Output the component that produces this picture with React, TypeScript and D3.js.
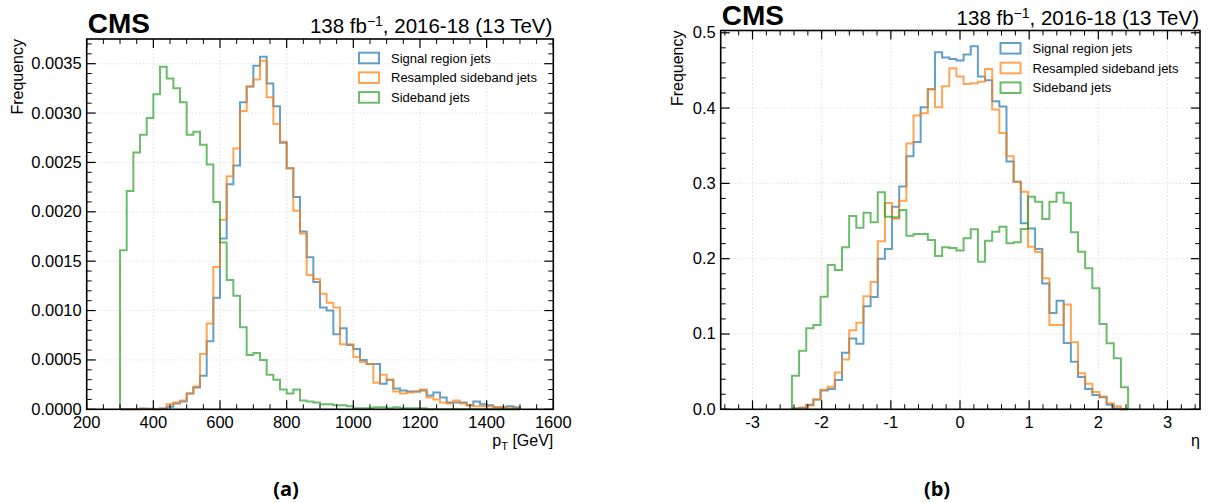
import React from 'react';
import * as d3 from 'd3';

// ---------- data: pT panel (20 GeV bins from 300 to 1500 GeV) ----------
const PT_LO = 300;
const PT_BIN = 20;
const ptSignal = [0, 0, 0, 0.000007, 0.000005, 0, 0.000007, 0.000025, 0.00006, 0.00008,
  0.00016, 0.00022, 0.00034, 0.00069, 0.00113, 0.00173, 0.00228, 0.00247, 0.00311, 0.00327,
  0.00348, 0.00357, 0.0033, 0.00307, 0.0027, 0.00244, 0.00215, 0.0018, 0.00154, 0.00129,
  0.00103, 0.001, 0.00076, 0.00082, 0.00065, 0.00061, 0.0005, 0.00046, 0.00046, 0.00026,
  0.0003, 0.00021, 0.00019, 0.00018, 0.00018, 0.00019, 0.00014, 0.00017, 0.00012, 0.00007,
  0.00007, 0.00007, 0.00004, 0.00008, 0.00005, 0.00004, 0.00002, 0.00002, 0.00003, 0.00002];
const ptResampled = [0, 0, 0, 0, 0, 0, 0.000005, 0.00005, 0.00007, 0.00009,
  0.00016, 0.00023, 0.00056, 0.00087, 0.00144, 0.00192, 0.00236, 0.00264, 0.00302, 0.00327,
  0.00334, 0.00353, 0.00316, 0.00289, 0.00271, 0.00244, 0.00201, 0.00178, 0.00136, 0.00132,
  0.00117, 0.00108, 0.00103, 0.00066, 0.00066, 0.00053, 0.00048, 0.00046, 0.00027, 0.00035,
  0.0003, 0.00018, 0.00016, 0.00017, 0.00018, 0.0002, 0.00012, 0.0001, 0.00007, 0.00006,
  0.00009, 0.00006, 0.00004, 0.00003, 0.00003, 0.00003, 0.00002, 0.00002, 0.00001, 0.00001];
const ptSideband = [0.00161, 0.00221, 0.0026, 0.00278, 0.00295, 0.00319, 0.00347, 0.00335, 0.00325, 0.00311,
  0.00278, 0.00281, 0.00268, 0.00248, 0.0021, 0.00169, 0.00131, 0.00115, 0.00083, 0.00055,
  0.00057, 0.0005, 0.00035, 0.0003, 0.0002, 0.00016, 0.0002, 0.00009, 0.00008, 0.00007,
  0.00005, 0.00005, 0.00004, 0.00004, 0.00003, 0.00001, 0.00001, 0.00001, 0.00002, 0.00002,
  0.00001, 0.00002, 0.00001, 0.00001, 0.00001, 0.00001, 0, 0, 0, 0,
  0, 0, 0, 0, 0, 0, 0, 0, 0, 0];
const ptXTicks = [200, 400, 600, 800, 1000, 1200, 1400, 1600];
const ptYTicks = [0, 0.0005, 0.001, 0.0015, 0.002, 0.0025, 0.003, 0.0035];
const ptYTickLabels = ['0.0000', '0.0005', '0.0010', '0.0015', '0.0020', '0.0025', '0.0030', '0.0035'];

// ---------- data: eta panel (47 bins from -2.43 to 2.43) ----------
const ETA_LO = -2.43;
const ETA_HI = 2.43;
const etaSignal = [0.001, 0.002, 0.006, 0.013, 0.025, 0.027, 0.039, 0.075, 0.094, 0.087,
  0.137, 0.149, 0.2, 0.213, 0.269, 0.296, 0.336, 0.355, 0.401, 0.425,
  0.474, 0.467, 0.465, 0.463, 0.471, 0.482, 0.442, 0.437, 0.409, 0.402,
  0.329, 0.302, 0.247, 0.24, 0.213, 0.167, 0.128, 0.144, 0.088, 0.063,
  0.043, 0.027, 0.019, 0.016, 0.006, 0.001, 0];
const etaResampled = [0.001, 0.002, 0.005, 0.013, 0.026, 0.03, 0.049, 0.066, 0.105, 0.115,
  0.15, 0.169, 0.223, 0.274, 0.253, 0.277, 0.353, 0.39, 0.393, 0.425,
  0.401, 0.429, 0.453, 0.442, 0.432, 0.433, 0.435, 0.452, 0.398, 0.367,
  0.336, 0.302, 0.289, 0.216, 0.209, 0.174, 0.112, 0.112, 0.139, 0.089,
  0.048, 0.034, 0.023, 0.017, 0.008, 0.004, 0];
const etaSideband = [0.0446, 0.0779, 0.1075, 0.112, 0.1496, 0.1916, 0.185, 0.2151, 0.2567, 0.2412,
  0.2611, 0.2483, 0.2882, 0.2558, 0.255, 0.2647, 0.2306, 0.2328, 0.2328, 0.2248,
  0.2036, 0.2151, 0.2142, 0.211, 0.2271, 0.239, 0.196, 0.2239, 0.2359, 0.2425,
  0.2204, 0.2218, 0.2394, 0.2824, 0.2757, 0.2527, 0.2757, 0.2877, 0.2744, 0.235,
  0.2093, 0.1872, 0.1607, 0.1133, 0.0876, 0.0677, 0.0292];
const etaXTicks = [-3, -2, -1, 0, 1, 2, 3];
const etaXTickLabels = ['-3', '-2', '-1', '0', '1', '2', '3'];
const etaYTicks = [0, 0.1, 0.2, 0.3, 0.4, 0.5];
const etaYTickLabels = ['0.0', '0.1', '0.2', '0.3', '0.4', '0.5'];

const seriesNames = ['Signal region jets', 'Resampled sideband jets', 'Sideband jets'];
const seriesColors = ['#1f77b4', '#ff7f0e', '#2ca02c'];

const FONT = "'Liberation Sans', Arial, Helvetica, sans-serif";

type PanelProps = {
  left: number; right: number; top: number; bottom: number;
  xDomain: [number, number]; yDomain: [number, number];
  series: { lo: number; width: number; values: number[] }[];
  xTicks: number[]; xTickLabels: string[];
  yTicks: number[]; yTickLabels: string[];
  xMinorStep: number; yMinorStep: number;
  legendX: number; legendY: number;
  xLabel: React.ReactNode;
  headerY: number;
  yLabelX: number;
};

function Panel(p: PanelProps) {
  const x = d3.scaleLinear().domain(p.xDomain).range([p.left, p.right]);
  const y = d3.scaleLinear().domain(p.yDomain).range([p.bottom, p.top]);
  const line = d3.line<[number, number]>().x(d => x(d[0])).y(d => y(d[1]));

  const paths = p.series.map(s => {
    const pts: [number, number][] = [[s.lo, 0]];
    s.values.forEach((v, i) => {
      pts.push([s.lo + i * s.width, v]);
      pts.push([s.lo + (i + 1) * s.width, v]);
    });
    pts.push([s.lo + s.values.length * s.width, 0]);
    return line(pts) as string;
  });

  const eps = 1e-9;
  const xMinor: number[] = [];
  for (let v = Math.ceil(p.xDomain[0] / p.xMinorStep) * p.xMinorStep; v <= p.xDomain[1] + eps; v += p.xMinorStep) {
    if (!p.xTicks.some(t => Math.abs(t - v) < p.xMinorStep / 10)) xMinor.push(v);
  }
  const yMinor: number[] = [];
  for (let v = 0; v <= p.yDomain[1] + eps; v += p.yMinorStep) {
    if (!p.yTicks.some(t => Math.abs(t - v) < p.yMinorStep / 10)) yMinor.push(v);
  }
  const MAJ = 9, MIN = 5;

  return (
    <g>
      {/* grid */}
      {p.xTicks.map((t, i) => (x(t) > p.left + 1 && x(t) < p.right - 1) ? (
        <line key={'gx' + i} x1={x(t)} x2={x(t)} y1={p.top} y2={p.bottom} stroke="#d9d9d9" strokeWidth={0.8} strokeDasharray="1.5,2" />
      ) : null)}
      {p.yTicks.map((t, i) => (y(t) > p.top + 1 && y(t) < p.bottom - 1) ? (
        <line key={'gy' + i} x1={p.left} x2={p.right} y1={y(t)} y2={y(t)} stroke="#d9d9d9" strokeWidth={0.8} strokeDasharray="1.5,2" />
      ) : null)}
      {/* histograms */}
      {paths.map((d, i) => (
        <path key={'h' + i} d={d} fill="none" stroke={seriesColors[i]} strokeOpacity={0.7} strokeWidth={2} />
      ))}
      {/* ticks */}
      {p.xTicks.map((t, i) => (
        <g key={'xt' + i}>
          <line x1={x(t)} x2={x(t)} y1={p.bottom} y2={p.bottom - MAJ} stroke="#000" strokeWidth={1.2} />
          <line x1={x(t)} x2={x(t)} y1={p.top} y2={p.top + MAJ} stroke="#000" strokeWidth={1.2} />
          <text x={x(t)} y={p.bottom + 19} textAnchor="middle" fontSize={16.5} fontFamily={FONT}>{p.xTickLabels[i]}</text>
        </g>
      ))}
      {xMinor.map((t, i) => (
        <g key={'xm' + i}>
          <line x1={x(t)} x2={x(t)} y1={p.bottom} y2={p.bottom - MIN} stroke="#000" strokeWidth={1} />
          <line x1={x(t)} x2={x(t)} y1={p.top} y2={p.top + MIN} stroke="#000" strokeWidth={1} />
        </g>
      ))}
      {p.yTicks.map((t, i) => (
        <g key={'yt' + i}>
          <line x1={p.left} x2={p.left + MAJ} y1={y(t)} y2={y(t)} stroke="#000" strokeWidth={1.2} />
          <line x1={p.right} x2={p.right - MAJ} y1={y(t)} y2={y(t)} stroke="#000" strokeWidth={1.2} />
          <text x={p.left - 5} y={y(t) + 5.5} textAnchor="end" fontSize={16.5} fontFamily={FONT}>{p.yTickLabels[i]}</text>
        </g>
      ))}
      {yMinor.map((t, i) => (
        <g key={'ym' + i}>
          <line x1={p.left} x2={p.left + MIN} y1={y(t)} y2={y(t)} stroke="#000" strokeWidth={1} />
          <line x1={p.right} x2={p.right - MIN} y1={y(t)} y2={y(t)} stroke="#000" strokeWidth={1} />
        </g>
      ))}
      {/* frame */}
      <rect x={p.left} y={p.top} width={p.right - p.left} height={p.bottom - p.top} fill="none" stroke="#000" strokeWidth={1.6} />
      {/* legend */}
      {seriesNames.map((name, i) => (
        <g key={'lg' + i}>
          <rect x={p.legendX} y={p.legendY + i * 19.7 - 5.3} width={20} height={10.6} fill="none" stroke={seriesColors[i]} strokeOpacity={0.7} strokeWidth={2} />
          <text x={p.legendX + 32} y={p.legendY + i * 19.7 + 4.6} fontSize={13} fontFamily={FONT}>{name}</text>
        </g>
      ))}
      {/* y label */}
      <text transform={`translate(${p.yLabelX},${p.top}) rotate(-90)`} textAnchor="end" fontSize={16} fontFamily={FONT}>Frequency</text>
      {/* x label */}
      <text x={p.right} y={p.bottom + 37} textAnchor="end" fontSize={16} fontFamily={FONT}>{p.xLabel}</text>
      {/* header */}
      <text x={p.left + 1} y={p.headerY} fontSize={28} fontWeight="bold" fontFamily={FONT}>CMS</text>
      <text x={p.right - 1} y={p.headerY} textAnchor="end" fontSize={20.5} fontFamily={FONT}>
        138 fb<tspan dy={-7.5} fontSize={14}>−1</tspan><tspan dy={7.5}>, 2016-18 (13 TeV)</tspan>
      </text>
    </g>
  );
}

export default function App() {
  return (
    <svg width={1212} height={503} style={{ position: 'absolute', left: 0, top: 0, background: '#fff' }}>
      <rect x={0} y={0} width={1212} height={503} fill="#fff" />
      <Panel
        left={86.7} right={553.3} top={39} bottom={409.3}
        xDomain={[200, 1600]} yDomain={[0, 0.00375]}
        series={[ptSignal, ptResampled, ptSideband].map(v => ({ lo: PT_LO, width: PT_BIN, values: v }))}
        xTicks={ptXTicks} xTickLabels={ptXTicks.map(String)}
        yTicks={ptYTicks} yTickLabels={ptYTickLabels}
        xMinorStep={50} yMinorStep={0.0001}
        legendX={359} legendY={58}
        xLabel={<>p<tspan dy={4} fontSize={11}>T</tspan><tspan dy={-4}> [GeV]</tspan></>}
        headerY={33}
        yLabelX={23}
      />
      <Panel
        left={720.7} right={1200} top={30.5} bottom={409.3}
        xDomain={[-3.46, 3.47]} yDomain={[0, 0.503]}
        series={[etaSignal, etaResampled, etaSideband].map(v => ({ lo: ETA_LO, width: (ETA_HI - ETA_LO) / v.length, values: v }))}
        xTicks={etaXTicks} xTickLabels={etaXTickLabels}
        yTicks={etaYTicks} yTickLabels={etaYTickLabels}
        xMinorStep={0.2} yMinorStep={0.02}
        legendX={1000.5} legendY={48.3}
        xLabel={<>η</>}
        headerY={25}
        yLabelX={683}
      />
      <text x={286} y={496} textAnchor="middle" fontSize={20} fontWeight="bold" fontFamily="'Open Sans', sans-serif">(a)</text>
      <text x={937} y={496} textAnchor="middle" fontSize={20} fontWeight="bold" fontFamily="'Open Sans', sans-serif">(b)</text>
    </svg>
  );
}
